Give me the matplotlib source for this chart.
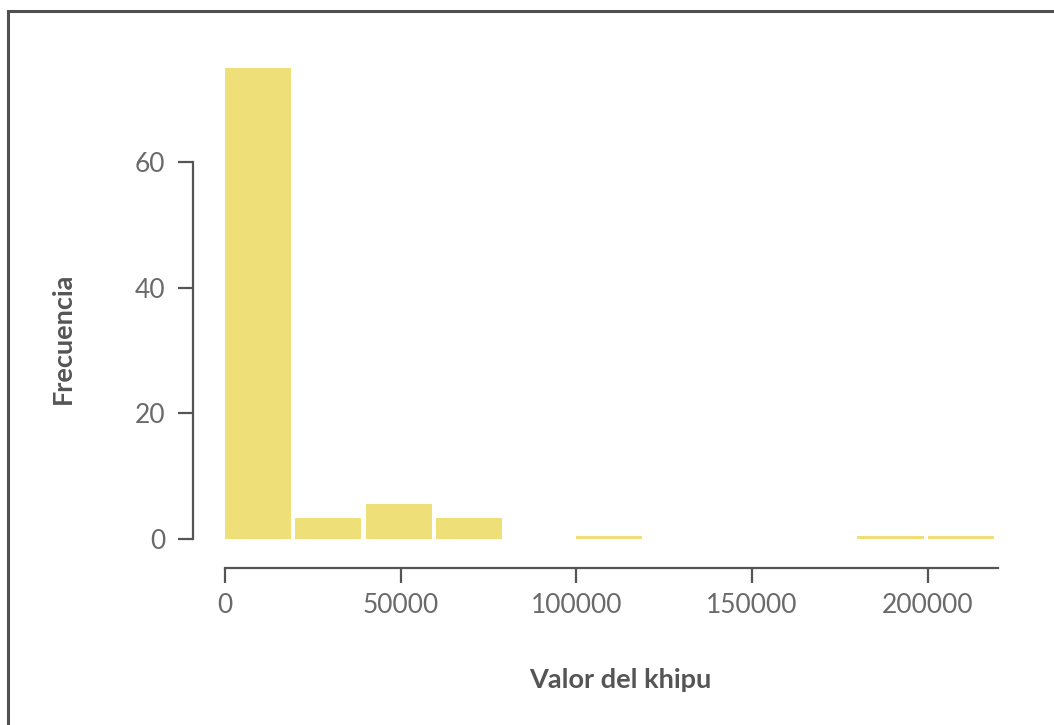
import matplotlib
matplotlib.use("Agg")
import matplotlib.pyplot as plt
from matplotlib.patches import Rectangle

# Data
bin_starts = [0, 20000, 40000, 60000, 80000, 100000, 120000, 140000, 160000, 180000, 200000]
counts = [75, 3.4, 5.5, 3.4, 0, 0.4, 0, 0, 0, 0.4, 0.4]
x_ticks = [0, 50000, 100000, 150000, 200000]
x_tick_labels = ["0", "50000", "100000", "150000", "200000"]
y_ticks = [0, 20, 40, 60]
y_tick_labels = ["0", "20", "40", "60"]
x_label = "Valor del khipu"
y_label = "Frecuencia"

plt.rcParams['font.family'] = ['Lato', 'DejaVu Sans']

W, H = 1054, 725
fig = plt.figure(figsize=(W / 100, H / 100), dpi=100)
fig.patch.set_facecolor("white")

# outer frame
fig.patches.append(Rectangle((8 / W, -0.1), 1.2, 1 - 11 / H + 0.1,
                             transform=fig.transFigure, fill=False,
                             edgecolor="#505050", linewidth=2.2, zorder=0))

left, right = 225 / W, 998 / W
bottom = (H - 539) / H
top = (H - 62) / H
ax = fig.add_axes([left, bottom, right - left, top - bottom])
ax.set_facecolor("none")

ax.bar(bin_starts, counts, width=18800, align="edge", color="#EEDF78",
       edgecolor="none", linewidth=0)

ax.set_xlim(0, 220000)
ax.set_ylim(0, 76)

for s in ["top", "right"]:
    ax.spines[s].set_visible(False)
ax.spines["left"].set_position(("outward", 32 * 0.72))
ax.spines["bottom"].set_position(("outward", 29 * 0.72))
ax.spines["left"].set_bounds(0, 60)
ax.spines["bottom"].set_bounds(0, 220000)
for s in ["left", "bottom"]:
    ax.spines[s].set_color("#555555")
    ax.spines[s].set_linewidth(1.6)

ax.set_xticks(x_ticks)
ax.set_xticklabels(x_tick_labels)
ax.set_yticks(y_ticks)
ax.set_yticklabels(y_tick_labels)
ax.tick_params(axis="both", colors="#555555", labelcolor="#6a6a6a",
               labelsize=19, length=11, width=1.6)
ax.tick_params(axis="x", pad=7)
ax.tick_params(axis="y", pad=9)

ax.set_xlabel(x_label, fontsize=19.5, fontweight="bold", color="#555555")
ax.set_ylabel(y_label, fontsize=19.5, fontweight="bold", color="#555555")
ax.xaxis.set_label_coords((620 - 225) / (998 - 225), -(668 - 539) / (539 - 62),
                          transform=ax.transAxes)
ax.yaxis.set_label_coords(-(225 - 75) / (998 - 225), (539 - 338) / (539 - 62),
                          transform=ax.transAxes)

fig.savefig("out.png", dpi=100, facecolor="white")
